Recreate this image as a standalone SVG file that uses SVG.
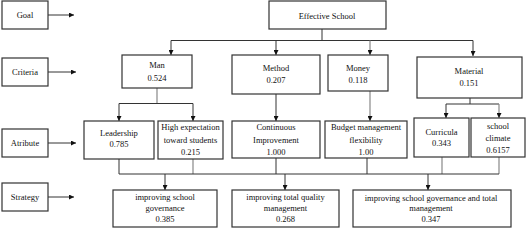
<svg xmlns="http://www.w3.org/2000/svg" width="529" height="230" viewBox="0 0 529 230">
<defs>
<marker id="ah" viewBox="0 0 6 6" refX="6" refY="3" markerWidth="5" markerHeight="5" orient="auto" markerUnits="userSpaceOnUse">
<path d="M0,0 L6,3 L0,6 z" fill="#111"/>
</marker>
<style>
.box{fill:#fff;stroke:#333;stroke-width:1.2}
.t{font-family:"Liberation Serif","Times New Roman",serif;font-size:8.5px;fill:#111;text-anchor:middle}
.c{fill:none;stroke:#333;stroke-width:1}
.g{fill:none;stroke:#888;stroke-width:1.2}
</style>
</defs>
<rect width="529" height="230" fill="#fff"/>

<g id="connectors">
<path class="c" d="M48,15 H74" marker-end="url(#ah)"/>
<path class="c" d="M48,72 H76" marker-end="url(#ah)"/>
<path class="c" d="M48,143 H76" marker-end="url(#ah)"/>
<path class="c" d="M48,197 H74" marker-end="url(#ah)"/>
<path class="c" d="M322,29 V40.5"/>
<path class="c" d="M171,40.5 H473"/>
<path class="c" d="M171,40.5 V55" marker-end="url(#ah)"/>
<path class="c" d="M276,40.5 V55" marker-end="url(#ah)"/>
<path class="g" d="M370,40.5 V55" marker-end="url(#ah)"/>
<path class="c" d="M473,40.5 V56" marker-end="url(#ah)"/>
<path class="g" d="M157,88 V103.5"/>
<path class="c" d="M119,103.5 H193"/>
<path class="c" d="M119,103.5 V121" marker-end="url(#ah)"/>
<path class="c" d="M193,103.5 V121" marker-end="url(#ah)"/>
<path class="c" d="M276,94 V121" marker-end="url(#ah)"/>
<path class="g" d="M370,91 V121" marker-end="url(#ah)"/>
<path class="c" d="M470,98 V104"/>
<path class="c" d="M446,104 H499"/>
<path class="c" d="M446,104 V118" marker-end="url(#ah)"/>
<path class="g" d="M499,104 V118" marker-end="url(#ah)"/>
<path class="c" d="M119,159 V174"/>
<path class="g" d="M193,159 V174"/>
<path class="c" d="M276,158 V174"/>
<path class="c" d="M367,158 V174"/>
<path class="g" d="M442,157 V174"/>
<path class="g" d="M499,157 V174"/>
<path class="c" d="M119,174 H499"/>
<path class="c" d="M165,174 V190" marker-end="url(#ah)"/>
<path class="c" d="M285,174 V190" marker-end="url(#ah)"/>
<path class="c" d="M428,174 V190" marker-end="url(#ah)"/>
</g>

<g id="goal"><rect class="box" x="2" y="1" width="46" height="28"/><text class="t" x="25" y="18">Goal</text></g>
<g id="criteria"><rect class="box" x="2" y="58" width="46" height="28"/><text class="t" x="25" y="75">Criteria</text></g>
<g id="atribute"><rect class="box" x="2" y="129" width="46" height="28"/><text class="t" x="25" y="146">Atribute</text></g>
<g id="strategy"><rect class="box" x="2" y="183" width="46" height="28"/><text class="t" x="25" y="200">Strategy</text></g>

<g id="effective-school"><rect class="box" x="269" y="1" width="117" height="28"/><text class="t" x="327" y="19">Effective School</text></g>

<g id="man"><rect class="box" x="122" y="55" width="70" height="33"/><text class="t" x="157" y="68">Man</text><text class="t" x="157" y="81">0.524</text></g>
<g id="method"><rect class="box" x="232" y="55" width="88" height="39"/><text class="t" x="276" y="71">Method</text><text class="t" x="276" y="83">0.207</text></g>
<g id="money"><rect class="box" x="328" y="55" width="60" height="36"/><text class="t" x="358" y="71">Money</text><text class="t" x="358" y="83">0.118</text></g>
<g id="material"><rect class="box" x="417" y="57" width="105" height="41"/><text class="t" x="469" y="74">Material</text><text class="t" x="469" y="86">0.151</text></g>

<g id="leadership"><rect class="box" x="84" y="121" width="70" height="38"/><text class="t" x="119" y="136">Leadership</text><text class="t" x="119" y="147">0.785</text></g>
<g id="high-expectation"><rect class="box" x="158" y="121" width="65" height="38"/><text class="t" x="190.5" y="130">High expectation</text><text class="t" x="190.5" y="143">toward students</text><text class="t" x="190.5" y="155">0.215</text></g>
<g id="continuous"><rect class="box" x="232" y="121" width="88" height="37"/><text class="t" x="276" y="130">Continuous</text><text class="t" x="276" y="143">Improvement</text><text class="t" x="276" y="155">1.000</text></g>
<g id="budget"><rect class="box" x="325" y="121" width="82" height="37"/><text class="t" x="366" y="130">Budget management</text><text class="t" x="366" y="143">flexibility</text><text class="t" x="366" y="155">1.00</text></g>
<g id="curricula"><rect class="box" x="414" y="118" width="55" height="39"/><text class="t" x="441.5" y="135">Curricula</text><text class="t" x="441.5" y="146">0.343</text></g>
<g id="school-climate"><rect class="box" x="471" y="118" width="54" height="39"/><text class="t" x="498" y="129">school</text><text class="t" x="498" y="141">climate</text><text class="t" x="498" y="153">0.6157</text></g>

<g id="s1"><rect class="box" x="113" y="190" width="104" height="37"/><text class="t" x="165" y="200">improving school</text><text class="t" x="165" y="211">governance</text><text class="t" x="165" y="222">0.385</text></g>
<g id="s2"><rect class="box" x="232" y="190" width="107" height="37"/><text class="t" x="285.5" y="200">improving total quality</text><text class="t" x="285.5" y="211">management</text><text class="t" x="285.5" y="222">0.268</text></g>
<g id="s3"><rect class="box" x="353" y="190" width="158" height="37"/><text class="t" x="431" y="201">improving school governance and total</text><text class="t" x="431" y="211">management</text><text class="t" x="431" y="222">0.347</text></g>
</svg>
